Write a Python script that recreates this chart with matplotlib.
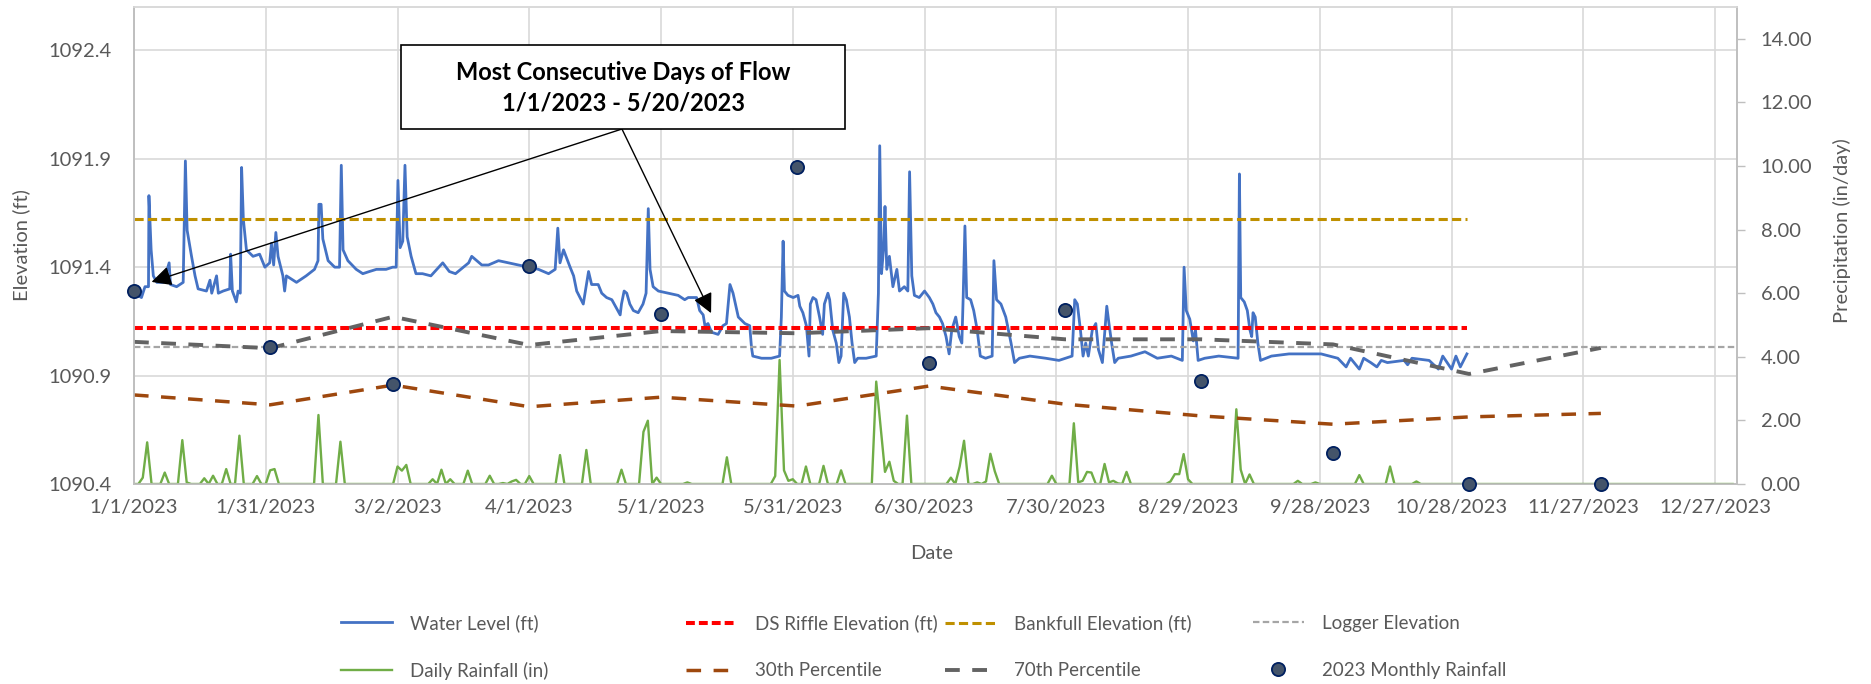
"""
Stream water level vs. rainfall, 2023 season.
Left axis: logger water level and reference elevations (ft).
Right axis: daily / monthly rainfall and monthly percentiles (in).
"""

import numpy as np
import matplotlib
matplotlib.use("Agg")
import matplotlib.pyplot as plt
import matplotlib.dates as mdates
from matplotlib.patches import Rectangle

plt.rcParams["font.family"] = ["Lato", "DejaVu Sans"]

BASE = np.datetime64("2023-01-01T00:00")
GREY_TXT = "#595959"


def to_dates(days):
    return BASE + (np.asarray(days, dtype=float) * 86400).astype("timedelta64[s]")


# ── Water level (days since 1/1/2023, ft) ────────────────────────────────────
wl_day = [
    0.0, 1.7, 2.5, 3.3, 3.4, 3.9, 4.4, 5.2, 6.7, 8.0, 8.3, 9.7, 11.2, 11.7,
    12.1, 13.1, 13.9, 14.6, 16.5, 17.3, 17.7, 18.8, 19.2, 20.3, 21.8, 22.0,
    22.4, 23.3, 23.7, 24.2, 24.5, 24.9, 25.6, 27.1, 28.6, 29.8, 30.9, 31.3,
    31.8, 32.3, 32.8, 33.9, 34.3, 34.7, 37.0, 39.2, 41.1, 41.9, 42.1, 42.6,
    43.0, 44.2, 45.7, 46.8, 47.2, 47.6, 48.7, 50.6, 52.1, 53.6, 55.2, 57.4,
    58.9, 59.7, 60.1, 60.6, 61.2, 61.7, 62.2, 63.1, 64.2, 65.7, 67.6, 70.3,
    71.8, 73.2, 76.2, 76.9, 79.2, 80.7, 83.0, 85.3, 87.5, 89.8, 92.1, 94.4,
    95.9, 96.5, 97.0, 97.8, 99.3, 100.1, 100.8, 102.3, 103.5, 104.2, 105.7,
    106.5, 107.6, 108.8, 109.9, 110.7, 111.0, 111.6, 112.2, 112.9, 113.7,
    114.8, 115.9, 116.6, 117.1, 117.5, 118.2, 119.4, 121.6, 123.9, 125.4,
    126.2, 128.1, 128.8, 129.6, 130.0, 130.7, 131.5, 133.0, 134.1, 134.9,
    135.7, 136.4, 137.6, 139.1, 140.2, 140.6, 140.9, 142.9, 145.1, 147.0,
    147.4, 147.8, 148.1, 148.9, 150.1, 151.2, 151.6, 152.3, 153.1, 153.7,
    154.0, 154.6, 155.3, 156.1, 156.8, 157.2, 158.0, 158.4, 159.1, 159.9,
    160.5, 161.0, 161.6, 162.2, 162.9, 163.5, 164.1, 164.8, 166.7, 169.0,
    169.5, 169.8, 170.2, 170.7, 171.0, 171.4, 172.0, 172.8, 173.7, 174.3,
    175.4, 176.2, 176.6, 177.1, 177.7, 178.8, 180.0, 181.1, 181.9, 182.6,
    183.4, 184.1, 184.9, 185.6, 186.2, 187.1, 187.9, 188.5, 188.8, 189.2,
    189.6, 190.5, 191.2, 192.0, 192.7, 193.9, 195.4, 195.8, 196.4, 197.4,
    198.5, 199.7, 200.5, 201.6, 204.0, 207.6, 210.6, 213.6, 214.2, 214.8,
    215.5, 216.1, 216.7, 217.3, 218.2, 219.0, 219.6, 220.5, 221.5, 222.0,
    222.6, 223.3, 224.1, 227.0, 230.2, 233.0, 236.2, 238.7, 239.1, 239.6,
    240.4, 241.2, 241.7, 242.3, 243.8, 247.0, 251.4, 251.7, 252.0, 252.8,
    253.5, 254.1, 254.5, 254.8, 255.3, 255.9, 256.5, 259.0, 263.0, 266.6,
    270.3, 274.1, 276.0, 277.0, 279.0, 280.0, 281.6, 283.0, 284.0, 285.4,
    289.2, 290.0, 291.0, 294.9, 297.0, 298.0, 300.0, 301.0, 302.0, 303.5,
]
wl_ft = [
    1091.28, 1091.26, 1091.31, 1091.31, 1091.73, 1091.48, 1091.36, 1091.33,
    1091.33, 1091.42, 1091.32, 1091.31, 1091.33, 1091.89, 1091.57, 1091.45,
    1091.36, 1091.30, 1091.29, 1091.34, 1091.28, 1091.36, 1091.28, 1091.29,
    1091.30, 1091.46, 1091.29, 1091.24, 1091.29, 1091.28, 1091.86, 1091.62,
    1091.48, 1091.45, 1091.46, 1091.40, 1091.42, 1091.51, 1091.41, 1091.56,
    1091.45, 1091.36, 1091.29, 1091.36, 1091.33, 1091.36, 1091.39, 1091.43,
    1091.69, 1091.69, 1091.53, 1091.43, 1091.40, 1091.40, 1091.87, 1091.48,
    1091.43, 1091.39, 1091.37, 1091.38, 1091.39, 1091.39, 1091.40, 1091.40,
    1091.80, 1091.49, 1091.52, 1091.87, 1091.54, 1091.45, 1091.37, 1091.37,
    1091.36, 1091.42, 1091.38, 1091.37, 1091.42, 1091.45, 1091.41, 1091.41,
    1091.43, 1091.42, 1091.41, 1091.40, 1091.39, 1091.37, 1091.39, 1091.58,
    1091.42, 1091.48, 1091.40, 1091.36, 1091.29, 1091.23, 1091.38, 1091.32,
    1091.32, 1091.28, 1091.26, 1091.25, 1091.21, 1091.18, 1091.23, 1091.29,
    1091.28, 1091.23, 1091.20, 1091.19, 1091.23, 1091.28, 1091.67, 1091.39,
    1091.31, 1091.29, 1091.28, 1091.27, 1091.25, 1091.26, 1091.26, 1091.20,
    1091.18, 1091.13, 1091.14, 1091.10, 1091.09, 1091.13, 1091.14, 1091.32,
    1091.28, 1091.17, 1091.14, 1091.13, 1091.03, 1090.99, 1090.98, 1090.98,
    1090.99, 1091.17, 1091.52, 1091.29, 1091.27, 1091.26, 1091.27, 1091.22,
    1091.19, 1091.13, 1090.99, 1091.23, 1091.26, 1091.25, 1091.17, 1091.09,
    1091.23, 1091.28, 1091.25, 1091.11, 1091.05, 1090.96, 1090.99, 1091.28,
    1091.25, 1091.17, 1091.05, 1090.96, 1090.98, 1090.98, 1090.99, 1091.28,
    1091.96, 1091.37, 1091.49, 1091.68, 1091.39, 1091.45, 1091.31, 1091.39,
    1091.29, 1091.31, 1091.29, 1091.84, 1091.36, 1091.27, 1091.26, 1091.29,
    1091.26, 1091.23, 1091.19, 1091.17, 1091.14, 1091.08, 1091.00, 1091.11,
    1091.17, 1091.08, 1091.05, 1091.26, 1091.59, 1091.26, 1091.25, 1091.20,
    1091.11, 1090.99, 1090.98, 1090.99, 1091.43, 1091.25, 1091.23, 1091.17,
    1091.05, 1090.96, 1090.98, 1090.99, 1090.98, 1090.97, 1090.99, 1091.25,
    1091.23, 1091.11, 1090.99, 1091.05, 1090.99, 1091.11, 1091.14, 1091.02,
    1090.96, 1091.22, 1091.14, 1091.05, 1090.96, 1090.98, 1090.99, 1091.01,
    1090.98, 1090.99, 1090.97, 1091.40, 1091.20, 1091.16, 1091.06, 1091.11,
    1090.97, 1090.98, 1090.99, 1090.98, 1091.83, 1091.26, 1091.24, 1091.20,
    1091.11, 1091.08, 1091.19, 1091.17, 1091.05, 1090.97, 1090.99, 1091.00,
    1091.00, 1091.00, 1090.98, 1090.94, 1090.98, 1090.93, 1090.98, 1090.96,
    1090.94, 1090.97, 1090.96, 1090.97, 1090.95, 1090.98, 1090.97, 1090.93,
    1090.99, 1090.93, 1090.99, 1090.94, 1091.00,
]

# ── Reference elevations (ft) ─────────────────────────────────────────────────
ds_riffle_ft = 1091.12
bankfull_ft = 1091.62
logger_ft = 1091.03
ref_end_day = 303.5      # last logger reading
logger_end_day = 365.0

# ── Daily rainfall (in); days not listed had none ────────────────────────────
rain_day = [
    2, 3, 7, 11, 12, 16, 18, 21, 24, 28, 31, 32, 42, 47, 60, 61, 62, 68, 70,
    72, 76, 81, 84, 86, 87, 90, 97, 103, 111, 116, 117, 119, 126, 135, 146,
    147, 148, 149, 150, 153, 157, 161, 169, 170, 171, 172, 173, 176, 186, 188,
    189, 192, 194, 195, 196, 209, 214, 215, 216, 217, 218, 221, 222, 223, 224,
    226, 236, 237, 238, 239, 240, 251, 252, 254, 265, 269, 279, 286, 292,
]
rain_in = [
    0.20, 1.31, 0.36, 1.38, 0.05, 0.18, 0.26, 0.47, 1.52, 0.25, 0.43, 0.47,
    2.17, 1.33, 0.55, 0.42, 0.60, 0.15, 0.45, 0.15, 0.42, 0.26, 0.03, 0.08,
    0.13, 0.25, 0.91, 1.07, 0.45, 1.64, 1.99, 0.20, 0.05, 0.84, 0.25, 3.90,
    0.43, 0.10, 0.15, 0.55, 0.57, 0.43, 3.22, 1.80, 0.38, 0.70, 0.10, 2.15,
    0.20, 0.55, 1.36, 0.05, 0.08, 0.95, 0.40, 0.26, 1.91, 0.05, 0.10, 0.38,
    0.36, 0.63, 0.05, 0.10, 0.02, 0.38, 0.08, 0.31, 0.31, 0.94, 0.15, 2.35,
    0.45, 0.30, 0.10, 0.05, 0.28, 0.55, 0.08,
]

# ── Monthly rainfall and percentiles (1st of each month) ─────────────────────
month_start = np.arange("2023-01", "2024-01", dtype="datetime64[M]").astype("datetime64[s]")
monthly_in = [6.08, 4.30, 3.14, 6.86, 5.36, 9.98, 3.79, 5.47, 3.24, 0.96, 0.00, 0.00]
p30_in = [2.80, 2.49, 3.11, 2.43, 2.73, 2.45, 3.08, 2.51, 2.14, 1.88, 2.11, 2.22]
p70_in = [4.47, 4.27, 5.26, 4.37, 4.81, 4.74, 4.90, 4.55, 4.55, 4.39, 3.46, 4.28]

# daily series, zero-filled
all_days = np.arange(365)
daily_rain = np.zeros(365)
daily_rain[rain_day] = rain_in

# ─────────────────────────────────────────────────────────────────────────────
# FIGURE
# ─────────────────────────────────────────────────────────────────────────────
fig = plt.figure(figsize=(18.71, 6.84), dpi=100)
ax = fig.add_axes([134 / 1871, 1 - 484 / 684, 1603 / 1871, 477 / 684])
ax2 = ax.twinx()

# primary axis
h_wl, = ax.plot(to_dates(wl_day), wl_ft, color="#4472C4", lw=2.0,
                label="Water Level (ft)")
ref_x = to_dates([0, ref_end_day])
h_ds, = ax.plot(ref_x, [ds_riffle_ft] * 2, color="#FF0000", lw=2.9,
                dashes=(2.2, 1.0), label="DS Riffle Elevation (ft)")
h_bf, = ax.plot(ref_x, [bankfull_ft] * 2, color="#BF9000", lw=2.2,
                dashes=(3.0, 1.4), label="Bankfull Elevation (ft)")
h_lg, = ax.plot(to_dates([0, logger_end_day]), [logger_ft] * 2,
                color="#A5A5A5", lw=1.6, dashes=(2.9, 1.5),
                label="Logger Elevation")

# secondary axis
h_dr, = ax2.plot(to_dates(all_days), daily_rain, color="#70AD47", lw=1.7,
                 label="Daily Rainfall (in)")
h_30, = ax2.plot(month_start, p30_in, color="#9E480E", lw=2.5,
                 dashes=(4.2, 3.6), label="30th Percentile")
h_70, = ax2.plot(month_start, p70_in, color="#636363", lw=2.8,
                 dashes=(3.8, 3.2), label="70th Percentile")
h_mr, = ax2.plot(month_start, monthly_in, ls="none", marker="o", ms=9.5,
                 mfc="#44546A", mec="#002060", mew=1.3, clip_on=False,
                 zorder=6, label="2023 Monthly Rainfall")

# ── axes ─────────────────────────────────────────────────────────────────────
ax.set_xlim(BASE, np.datetime64("2024-01-01T00:00"))
xt = to_dates(np.arange(0, 361, 30))
ax.set_xticks(xt)
ax.set_xticklabels([f"{d.month}/{d.day}/{d.year}" for d in xt.astype(object)])
ax.set_ylim(1090.4, 1092.6)
ax.set_yticks(np.arange(1090.4, 1092.41, 0.5))
ax.set_yticklabels([f"{v:.1f}" for v in np.arange(1090.4, 1092.41, 0.5)])
ax2.set_ylim(0, 15)
ax2.set_yticks(np.arange(0, 15, 2))
ax2.set_yticklabels([f"{v:.2f}" for v in np.arange(0, 15, 2)])

ax.grid(True, color="#D9D9D9", lw=1.2)
ax.set_axisbelow(True)
ax.tick_params(axis="x", length=0, pad=11, labelsize=14.5, labelcolor=GREY_TXT)
ax.tick_params(axis="y", length=0, pad=16, labelsize=14.5, labelcolor=GREY_TXT)
ax2.tick_params(axis="y", length=6, width=1, color="#BFBFBF", pad=11,
                labelsize=14.5, labelcolor=GREY_TXT)

for a in (ax, ax2):
    for side in ("left", "right", "bottom"):
        a.spines[side].set_color("#BFBFBF")
        a.spines[side].set_linewidth(1.2)
    a.spines["top"].set_color("#D9D9D9")
    a.spines["top"].set_linewidth(1.2)

fig.text(21.5 / 1871, 1 - 245.5 / 684, "Elevation (ft)", rotation=90,
         ha="center", va="center", fontsize=14.5, color=GREY_TXT)
fig.text(1841.7 / 1871, 1 - 231 / 684, "Precipitation (in/day)", rotation=90,
         ha="center", va="center", fontsize=14.5, color=GREY_TXT)
fig.text(932 / 1871, 1 - 553.7 / 684, "Date", ha="center", va="center",
         fontsize=14.5, color=GREY_TXT)

# ── callout ──────────────────────────────────────────────────────────────────
ax2.add_patch(Rectangle((0.1664, 0.7442), 0.2771, 0.1761,
                        transform=ax2.transAxes, fc="white", ec="black",
                        lw=1.2, zorder=10))
ax2.text(0.3055, 0.830, "Most Consecutive Days of Flow\n1/1/2023 - 5/20/2023",
         transform=ax2.transAxes, ha="center", va="center", fontsize=17,
         fontweight="bold", linespacing=1.4, zorder=11)
arrow_kw = dict(arrowstyle="-|>,head_length=0.6,head_width=0.3",
                color="black", lw=1.0, shrinkA=0, shrinkB=0,
                mutation_scale=20)
for tip_day, tip_ft in [(4.0, 1091.332), (131.4, 1091.188)]:
    tip = (mdates.date2num(to_dates([tip_day])[0]), tip_ft)
    ax2.annotate("", xy=tip, xycoords=ax.transData,
                 xytext=(0.3044, 0.7442), textcoords=ax2.transAxes,
                 arrowprops=arrow_kw, zorder=9)

# ── legend: 4 columns x 2 rows ───────────────────────────────────────────────
columns = [(341, [h_wl, h_dr]), (686, [h_ds, h_30]),
           (945, [h_bf, h_70]), (1253, [h_lg, h_mr])]
for x0, hs in columns:
    fig.legend(handles=hs, loc="center left",
               bbox_to_anchor=(x0 / 1871, 1 - 647 / 684),
               frameon=False, fontsize=13.5, labelcolor=GREY_TXT,
               handlelength=2.7, handletextpad=1.0, labelspacing=1.6,
               borderpad=0, borderaxespad=0)

fig.savefig("out.png", dpi=100)
